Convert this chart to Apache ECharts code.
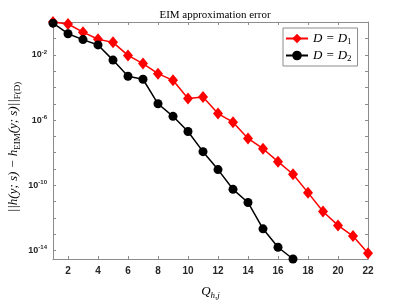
<!DOCTYPE html>
<html>
<head>
<meta charset="utf-8">
<script src="https://cdn.jsdelivr.net/npm/echarts@6/dist/echarts.min.js"></script>
<style>html,body{margin:0;padding:0;background:#fff}#c{width:407px;height:305px}</style>
</head>
<body>
<div id="c"></div>
<script>
var qValues = [1,2,3,4,5,6,7,8,9,10,11,12,13,14,15,16,17,18,19,20,21,22];
var errD1 = [1.05,7.9e-1,2.5e-1,9.1e-2,5.9e-2,9.3e-3,2.95e-3,7.1e-4,2.75e-4,2.1e-5,2.6e-5,2.5e-6,7.4e-7,7.4e-8,1.74e-8,2.8e-9,4.7e-10,3.5e-11,2.45e-12,3.4e-13,7.6e-14,6.6e-15];
var errD2 = [8.9e-1,2.0e-1,8.7e-2,4.1e-2,4.8e-3,4.9e-4,3.2e-4,1.0e-5,1.7e-6,2.0e-7,1.15e-8,9.1e-10,5.6e-11,8.7e-12,2.1e-13,1.55e-14,2.95e-15];
var xTickValues = [2,4,6,8,10,12,14,16,18,20,22];
var yLabelExps = [-14,-10,-6,-2];
var yTickExps = [-14,-13,-12,-11,-10,-9,-8,-7,-6,-5,-4,-3,-2,-1,0];
var seriesNames = ['D1','D2'];

var yMin = Math.min.apply(null, errD1.concat(errD2));
var yMax = Math.max.apply(null, errD1.concat(errD2));
var yLabelVals = yLabelExps.map(function(e){return Math.pow(10,e);});
var yTickVals = yTickExps.map(function(e){return Math.pow(10,e);});

function pairs(ys){ return ys.map(function(v,i){return [qValues[i], v];}); }

var axisGray = '#8c8c8c';
var serif = 'Liberation Serif';
var sans = 'Liberation Sans';

var chart = echarts.init(document.getElementById('c'), null, {renderer:'canvas'});
chart.setOption({
  animation: false,
  backgroundColor: '#fff',
  title: {
    text: 'EIM approximation error',
    left: 210, top: 5, textAlign: 'center',
    textStyle: {fontFamily: serif, fontSize: 11, fontWeight: 'normal', color: '#000'}
  },
  grid: {left: 53, right: 39, top: 22, bottom: 36},
  legend: {
    left: 283, top: 28, orient: 'vertical',
    padding: [4, 6, 3, 2], itemGap: 3, itemWidth: 22, itemHeight: 12,
    borderColor: '#8c8c8c', borderWidth: 1, backgroundColor: '#fff',
    data: seriesNames,
    formatter: function(n){ return '{i|D = D}{s|' + n.slice(1) + '}'; },
    textStyle: {
      rich: {
        i: {fontFamily: serif, fontStyle: 'italic', fontSize: 13, color: '#000'},
        s: {fontFamily: serif, fontSize: 9, color: '#000', padding: [6,0,0,0]}
      }
    }
  },
  xAxis: [{
    type: 'value', min: 1, max: 22, position: 'bottom',
    axisLine: {show: true, lineStyle: {color: axisGray}},
    axisTick: {show: true, inside: true, length: 3, lineStyle: {color: axisGray}, customValues: xTickValues},
    axisLabel: {customValues: xTickValues, fontFamily: sans, fontWeight: 'bold', fontSize: 10, color: '#262626', margin: 7},
    splitLine: {show: false},
    name: '{i|Q}{s|h,j}', nameLocation: 'middle', nameGap: 25,
    nameTextStyle: {rich: {
      i: {fontFamily: serif, fontStyle: 'italic', fontSize: 13, color: '#000'},
      s: {fontFamily: serif, fontStyle: 'italic', fontSize: 9, color: '#000', padding: [7,0,0,0]}
    }}
  }, {
    type: 'value', min: 1, max: 22, position: 'top',
    axisLine: {show: true, lineStyle: {color: axisGray}},
    axisTick: {show: true, inside: true, length: 3, lineStyle: {color: axisGray}, customValues: xTickValues},
    axisLabel: {show: false}, splitLine: {show: false}
  }],
  yAxis: [{
    type: 'log', logBase: 10, min: yMin, max: yMax, position: 'left',
    axisLine: {show: true, lineStyle: {color: axisGray}},
    axisTick: {show: true, inside: true, length: 3, lineStyle: {color: axisGray}, customValues: yTickVals},
    axisLabel: {
      customValues: yLabelVals, margin: 6,
      formatter: function(v){ var e = Math.round(Math.log10(v)); return '{b|10}{s|' + e + '}'; },
      rich: {
        b: {fontFamily: sans, fontWeight: 'bold', fontSize: 9, color: '#262626'},
        s: {fontFamily: sans, fontWeight: 'bold', fontSize: 6, color: '#262626', padding: [0,0,6,0]}
      }
    },
    splitLine: {show: false}
  }, {
    type: 'log', logBase: 10, min: yMin, max: yMax, position: 'right',
    axisLine: {show: true, lineStyle: {color: axisGray}},
    axisTick: {show: true, inside: true, length: 3, lineStyle: {color: axisGray}, customValues: yTickVals},
    axisLabel: {show: false}, splitLine: {show: false}
  }],
  graphic: [{
    type: 'text', x: 14, y: 147, rotation: Math.PI/2,
    style: {
      text: '{i|||h(y; s) − h}{s|EIM}{i|(y; s)||}{s|F(D)}',
      align: 'center', verticalAlign: 'middle',
      rich: {
        i: {fontFamily: serif, fontStyle: 'italic', fontSize: 13, fill: '#000'},
        s: {fontFamily: serif, fontSize: 9, fill: '#000', padding: [7,0,0,0]}
      }
    }
  }],
  series: [{
    name: 'D1', type: 'line', xAxisIndex: 0, yAxisIndex: 0,
    data: pairs(errD1), symbol: 'diamond', symbolSize: [10, 12],
    lineStyle: {color: '#ff0000', width: 1.5}, itemStyle: {color: '#ff0000'}
  }, {
    name: 'D2', type: 'line', xAxisIndex: 0, yAxisIndex: 0,
    data: pairs(errD2), symbol: 'circle', symbolSize: 9,
    lineStyle: {color: '#000', width: 1.5}, itemStyle: {color: '#000'}
  }]
});
</script>
</body>
</html>
